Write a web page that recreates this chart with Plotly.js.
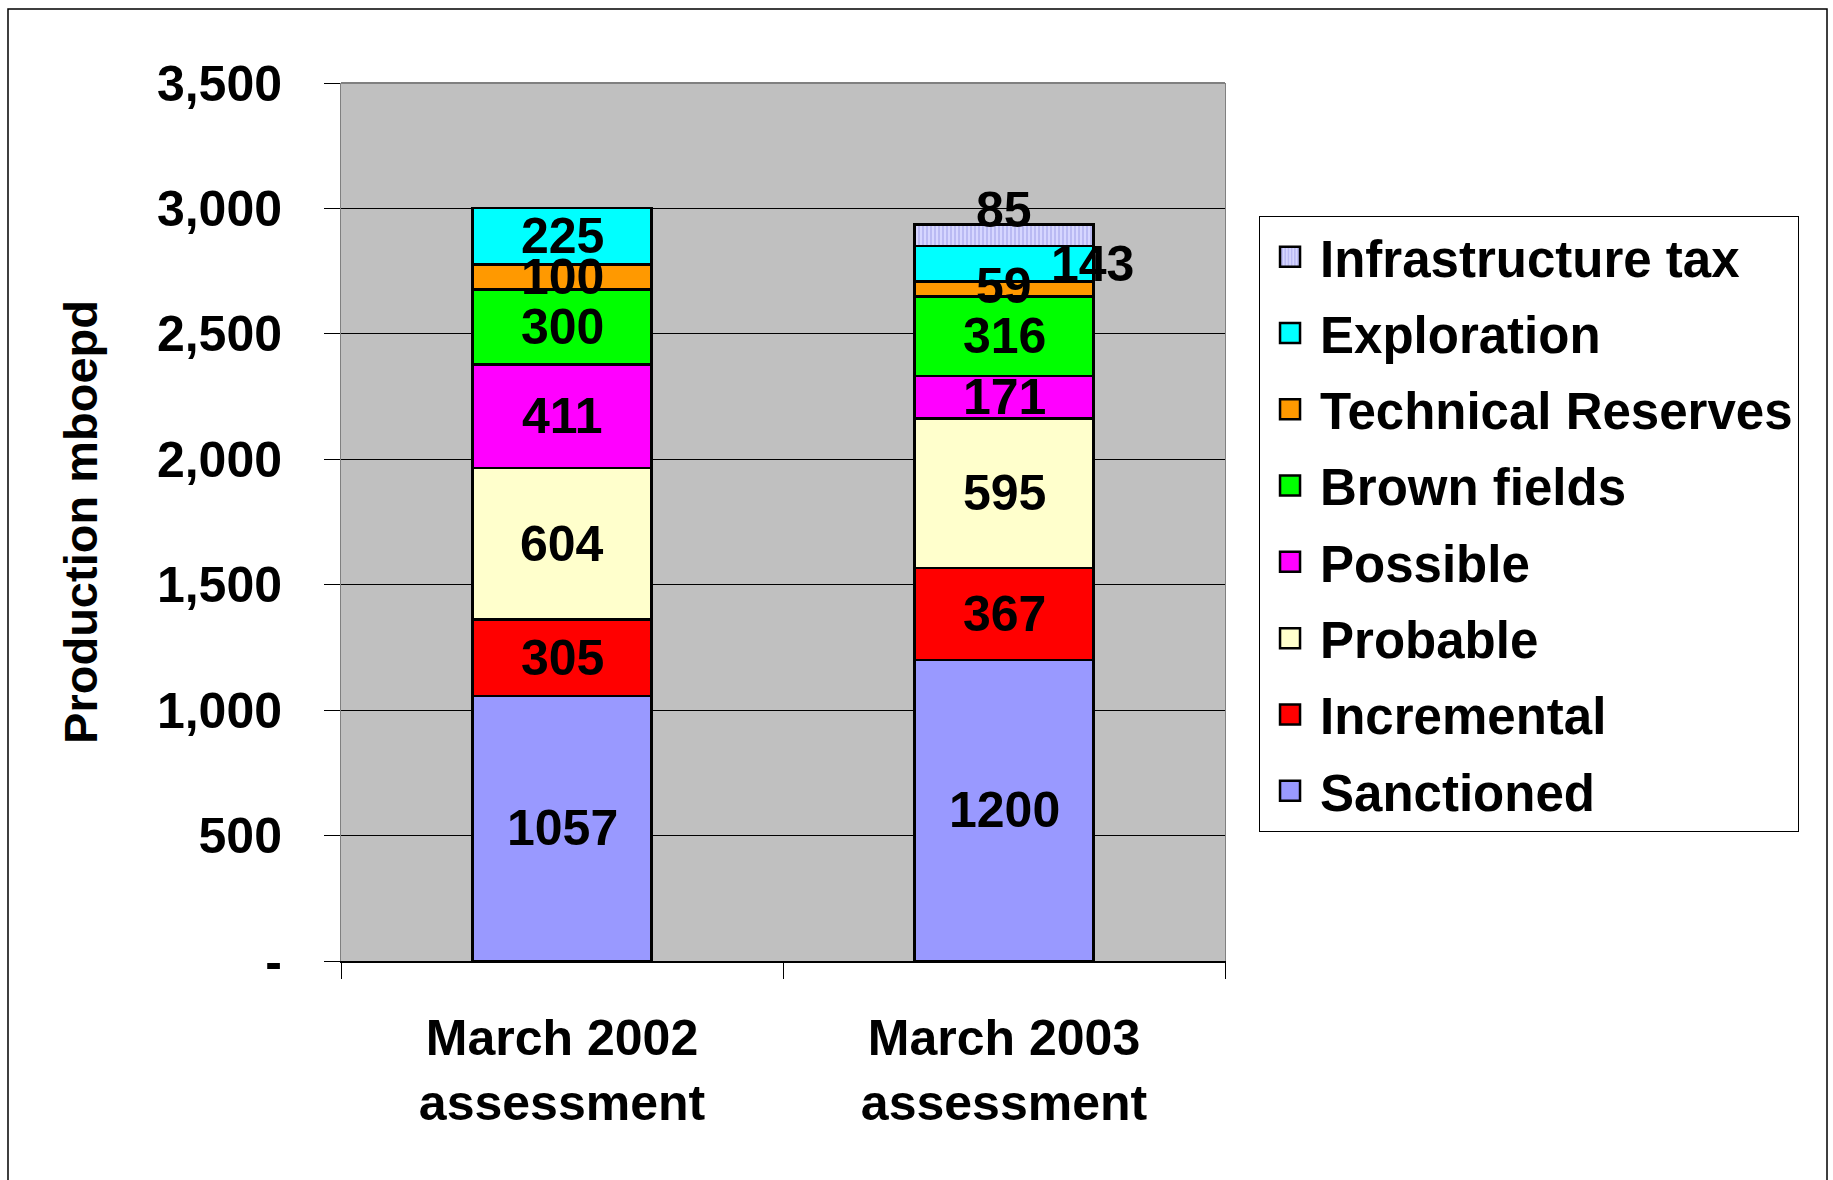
<!DOCTYPE html>
<html>
<head>
<meta charset="utf-8">
<script src="https://cdn.plot.ly/plotly-3.0.1.min.js"></script>
<style>html,body{margin:0;padding:0;background:#fff;}#chart{width:1833px;height:1180px;}</style>
</head>
<body>
<div id="chart"></div>
<script>
const categories = ["March 2002<br>assessment", "March 2003<br>assessment"];
const seriesNames = ["Sanctioned", "Incremental", "Probable", "Possible", "Brown fields", "Technical Reserves", "Exploration", "Infrastructure tax"];
const sanctioned = [1057, 1200];
const incremental = [305, 367];
const probable = [604, 595];
const possible = [411, 171];
const brownFields = [300, 316];
const technicalReserves = [100, 59];
const exploration = [225, 143];
const infrastructureTax = [null, 85];
const yTickVals = [0, 500, 1000, 1500, 2000, 2500, 3000, 3500];
const yTickText = ["-", "500", "1,000", "1,500", "2,000", "2,500", "3,000", "3,500"];

const seriesValues = [sanctioned, incremental, probable, possible, brownFields, technicalReserves, exploration, infrastructureTax];
const colors = ["#9999FF", "#FF0000", "#FFFFCC", "#FF00FF", "#00FF00", "#FF9900", "#00FFFF", "#CCCCFF"];

const FONT = "Liberation Sans, Arial, sans-serif";
const traces = seriesValues.map((vals, i) => {
  const marker = {color: colors[i], line: {color: "#000", width: 2.5}};
  if (i === 7) marker.pattern = {shape: "|", fgcolor: "#B3B3F0", bgcolor: "#D6D6FF", size: 4, solidity: 0.4};
  return {
    type: "bar",
    name: seriesNames[i],
    x: categories,
    y: vals,
    marker: marker,
    textposition: "none",
    legendgroup: "g" + i,
    legendrank: 1000 - i,
    hoverinfo: "none"
  };
});

// data labels as annotations (drawn on top), centred in each segment
// a few labels in the 2003 bar were moved off-centre in the original
const labelShift = {"7_1": {xshift: 0, yshift: 25}, "6_1": {xshift: 88, yshift: 0}, "5_1": {xshift: 0, yshift: 3}};
const annotations = [];
categories.forEach((cat, j) => {
  let base = 0;
  seriesValues.forEach((vals, i) => {
    const v = vals[j];
    if (v == null) return;
    const sh = labelShift[i + "_" + j] || {xshift: 0, yshift: 0};
    annotations.push({
      x: cat, y: base + v / 2, text: String(v), showarrow: false,
      xshift: sh.xshift, yshift: sh.yshift,
      font: {family: FONT, size: 50, color: "#000", weight: "bold"}
    });
    base += v;
  });
});

const layout = {
  width: 1833, height: 1180,
  margin: {l: 341, r: 608, t: 83, b: 219, pad: 0},
  paper_bgcolor: "#FFFFFF",
  plot_bgcolor: "#C0C0C0",
  barmode: "stack",
  bargap: 0.595,
  font: {family: FONT, size: 48, color: "#000"},
  showlegend: true,
  legend: {
    x: 1.0385, xanchor: "left", y: 0.8485, yanchor: "top",
    traceorder: "grouped",
    bgcolor: "#FFFFFF", bordercolor: "#000", borderwidth: 1,
    font: {family: FONT, size: 51, color: "#000", weight: "bold"},
    tracegroupgap: 7,
    itemwidth: 50
  },
  xaxis: {
    type: "category",
    tickson: "boundaries",
    ticks: "outside", ticklen: 16, tickcolor: "#000", tickwidth: 1,
    showline: true, linecolor: "#000", linewidth: 2,
    showgrid: false, zeroline: false,
    tickfont: {family: FONT, size: 50, color: "#000", weight: "bold"},
    ticklabelstandoff: 32,
    fixedrange: true
  },
  yaxis: {
    range: [0, 3500],
    tickvals: yTickVals, ticktext: yTickText,
    ticks: "outside", ticklen: 16, tickcolor: "#000", tickwidth: 1,
    showline: true, linecolor: "#808080", linewidth: 1, mirror: true,
    showgrid: true, gridcolor: "#000", gridwidth: 1,
    zeroline: false,
    tickfont: {family: FONT, size: 50, color: "#000", weight: "bold"},
    ticklabelstandoff: 32,
    title: {text: "Production mboepd", font: {family: FONT, size: 47, color: "#000", weight: "bold"}, standoff: 44},
    fixedrange: true
  },
  annotations: annotations,
  shapes: [
    {type: "line", xref: "paper", yref: "paper", x0: 0, x1: 1, y0: 1, y1: 1, line: {color: "#808080", width: 2}},
    {type: "rect", xref: "paper", yref: "paper", x0: -0.3767, x1: 1.681, y0: -0.3, y1: 1.0843, line: {color: "#000", width: 1.5}, fillcolor: "rgba(0,0,0,0)"}
  ]
};

Plotly.newPlot("chart", traces, layout, {displayModeBar: false, staticPlot: true}).then(() => {
  // enlarge legend swatches to match the original's bigger squares
  document.querySelectorAll(".legend .legendpoints path").forEach(p => {
    p.setAttribute("d", "M10,10H-10V-10H10Z");
    p.style.strokeWidth = "2.5px";
    p.style.stroke = "#000";
  });
});
</script>
</body>
</html>
